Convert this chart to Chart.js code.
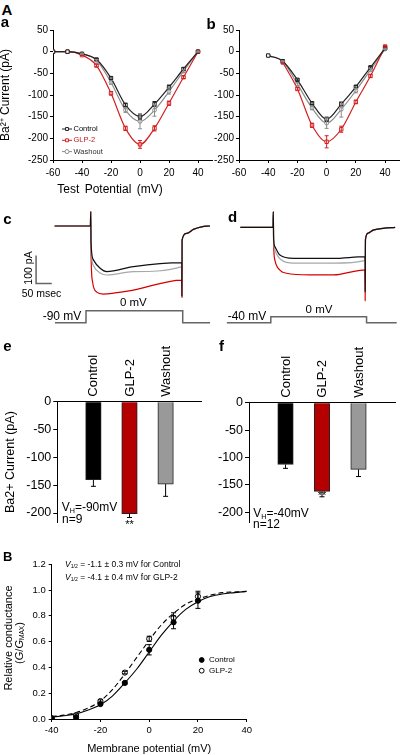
<!DOCTYPE html>
<html>
<head>
<meta charset="utf-8">
<script src="https://cdn.jsdelivr.net/npm/chart.js@4.4.0/dist/chart.umd.min.js"></script>
<style>
  body { margin: 0; background: #fff; }
  #fig { position: relative; width: 400px; height: 755px; overflow: hidden;
         font-family: 'Liberation Sans', Arial, sans-serif; color: #000; }
  canvas { position: absolute; }
  .t { position: absolute; white-space: nowrap; line-height: 1; }
  .c { transform: translate(-50%, -50%); }
  .l { transform: translateY(-50%); }
  .r { transform: translate(-50%, -50%) rotate(-90deg); }
  .b { font-weight: bold; }
  sub { font-size: 60%; vertical-align: -0.25em; line-height: 0; }
</style>
</head>
<body>
<div id="fig">
  <canvas id="ivA" width="215" height="177" style="left:0;top:18px"></canvas>
  <canvas id="ivB" width="200" height="177" style="left:200px;top:18px"></canvas>
  <canvas id="trC" width="215" height="135" style="left:0;top:200px"></canvas>
  <canvas id="trD" width="185" height="135" style="left:215px;top:200px"></canvas>
  <canvas id="barE" width="215" height="192" style="left:0;top:340px"></canvas>
  <canvas id="barF" width="200" height="192" style="left:200px;top:340px"></canvas>
  <canvas id="gv" width="262" height="207" style="left:0;top:548px"></canvas>

  <div class="t c b" style="left:7px;top:9px;font-size:15px">A</div>
  <div class="t c b" style="left:5px;top:21px;font-size:15px">a</div>
  <div class="t c b" style="left:211px;top:23px;font-size:15px">b</div>
  <div class="t c" style="left:110px;top:188.5px;font-size:12px;word-spacing:2px">Test Potential (mV)</div>

  <div class="t c b" style="left:7.5px;top:218px;font-size:15px">c</div>
  <div class="t c b" style="left:232.5px;top:216px;font-size:15px">d</div>
  <div class="t r" style="left:28px;top:267.5px;font-size:10.5px">100 pA</div>
  <div class="t c" style="left:41.5px;top:293.3px;font-size:10.5px">50 msec</div>
  <div class="t c" style="left:133.3px;top:302.5px;font-size:11.5px">0 mV</div>
  <div class="t c" style="left:62px;top:316.3px;font-size:12px">-90 mV</div>
  <div class="t c" style="left:319px;top:309.5px;font-size:11.5px">0 mV</div>
  <div class="t c" style="left:247px;top:316.3px;font-size:12px">-40 mV</div>

  <div class="t c b" style="left:7.5px;top:344.5px;font-size:15px">e</div>
  <div class="t c b" style="left:221.5px;top:345px;font-size:15px">f</div>
  <div class="t l" style="left:61.7px;top:506.7px;font-size:12px">V<sub>H</sub>=-90mV</div>
  <div class="t l" style="left:62px;top:519px;font-size:12px">n=9</div>
  <div class="t l" style="left:253.3px;top:512.7px;font-size:12px">V<sub>H</sub>=-40mV</div>
  <div class="t l" style="left:253px;top:524px;font-size:12px">n=12</div>

  <div class="t c b" style="left:7.7px;top:556px;font-size:13px">B</div>
  <div class="t l" style="left:65px;top:564.3px;font-size:8.5px"><i>V</i><sub>1/2</sub> = -1.1 ± 0.3 mV for Control</div>
  <div class="t l" style="left:65px;top:576.7px;font-size:8.5px"><i>V</i><sub>1/2</sub> = -4.1 ± 0.4 mV for GLP-2</div>
  <div class="t r" style="left:7.5px;top:638px;font-size:11px">Relative conductance</div>
  <div class="t r" style="left:18.5px;top:643px;font-size:11px">(<i>G</i>/<i>G</i><sub>MAX</sub>)</div>
</div>

<script>
// ---- data ----
// A a: I-V at holding -90 mV (pA)
const vA = [-60, -50, -40, -30, -20, -10, 0, 10, 20, 30, 40];
const ctrlA = [0, 0, -5, -18, -61, -123, -150, -121, -82, -40, 0];
const glpA = [0, 0, -8, -32, -96, -177, -214, -177, -119, -59, 0];
const washA = [0, 0, -5, -20, -71, -135, -161, -135, -92, -45, 0];
const ctrlAErr = [0, 0, 1, 2, 3, 4, 6, 6, 5, 3, 1];
const glpAErr = [0, 0, 1, 3, 4, 5, 9, 6, 5, 3, 1];
const washAErr = [0, 0, 1, 2, 4, 5, 17, 14, 6, 3, 1];

// A b: I-V at holding -40 mV
const vB = [-40, -30, -20, -10, 0, 10, 20, 30, 40];
const ctrlB = [-9, -22, -65, -119, -156, -121, -81, -36, 8];
const glpB = [null, -25, -86, -170, -208, -179, -116, -56, 12];
const washB = [-9, -22, -75, -130, -165, -133, -90, -42, 6];
const ctrlBErr = [0, 1, 2, 3, 5, 4, 3, 2, 1];
const glpBErr = [0, 2, 3, 5, 14, 7, 4, 3, 2];
const washBErr = [0, 1, 3, 4, 12, 18, 5, 3, 1];

// A c: current traces, step -90 -> 0 mV (ms, pA)
const tCCtrl = [-115, -1, 0, 1, 8, 30, 51, 136, 290, 290.5, 291, 306, 327, 353, 380];
const iCCtrl = [0, 0, 51, -60, -120, -151, -163, -145, -131, -250, -50, -26, -12, -3, 0];
const tCWash = [-115, -1, 0, 1, 8, 30, 51, 136, 290, 291, 306, 327, 353, 380];
const iCWash = [0, 0, 51, -70, -140, -168, -175, -163, -145, -50, -26, -12, -3, 0];
const tCGlp = [-115, -1, 0, 1, 6, 19, 40, 72, 136, 290, 290.5, 291, 306, 327, 353, 380];
const iCGlp = [0, 0, 51, -100, -200, -236, -243, -240, -229, -193, -255, -50, -26, -12, -3, 0];
const tProtC = [-114, -15, -15, 293, 293, 380];
const vProtC = [-90, -90, 0, 0, -90, -90];
const tScale = [-174, -174, -124];   // 50 ms
const iScale = [-105, -205, -205];   // 100 pA

// A d: current traces, step -40 -> 0 mV
const tDCtrl = [-105, -1, 0, 1, 5, 21, 64, 191, 292, 292.5, 293.5, 302, 318, 350, 388];
const iDCtrl = [0, 0, 56, -40, -69, -99, -111, -111, -105, -230, -43, -21, -10, -3.6, 0];
const tDWash = [-105, -1, 0, 1, 5, 26, 64, 191, 292, 293.5, 302, 318, 350, 388];
const iDWash = [0, 0, 56, -40, -81, -117, -128, -128, -119, -43, -21, -10, -3.6, 0];
const tDGlp = [-105, -1, 0, 1, 5, 21, 42, 116, 191, 292, 292.5, 293.5, 302, 318, 350, 388];
const iDGlp = [0, 0, 56, -60, -117, -153, -164, -170, -170, -152, -262, -43, -21, -10, -3.6, 0];
const tProtD = [-148, -8, -8, 297, 297, 393];
const vProtD = [-40, -40, 0, 0, -40, -40];

// A e, f: mean current
const barCats = ['', 'Control', 'GLP-2', 'Washout', ''];
const meanE = [-140, -201, -148];
const errE = [12, 7, 22];
const meanF = [-113, -162, -122];
const errF = [7, 10, 13];

// B: relative conductance
const vG = [-40, -30, -20, -10, 0, 10, 20];
const gCtrl = [0.005, 0.013, 0.116, 0.28, 0.537, 0.75, 0.918];
const gGlp = [0.005, 0.03, 0.139, 0.36, 0.622, 0.784, 0.951];
const gCtrlErr = [0, 0.01, 0.01, 0.01, 0.04, 0.05, 0.06];
const gGlpErr = [0, 0.01, 0.01, 0.01, 0.02, 0.04, 0.04];
const vFit = [-40, -35, -30, -25, -20, -15, -10, -5, 0, 5, 10, 15, 20, 25, 30, 35, 40];
const fitCtrl = [0.015, 0.025, 0.04, 0.07, 0.11, 0.18, 0.28, 0.39, 0.52, 0.65, 0.76, 0.85, 0.91, 0.95, 0.97, 0.98, 0.99];
const fitGlp = [0.02, 0.03, 0.05, 0.085, 0.14, 0.23, 0.35, 0.48, 0.61, 0.73, 0.82, 0.89, 0.93, 0.96, 0.98, 0.985, 0.99];

// ---- setup ----
const FONT = "'Liberation Sans', Arial, sans-serif";
Chart.defaults.font.family = FONT;
Chart.defaults.color = '#000';
Chart.defaults.animation = false;
Chart.defaults.responsive = false;
Chart.defaults.plugins.legend.display = false;
Chart.defaults.plugins.tooltip.enabled = false;
Chart.defaults.layout.autoPadding = false;

const pts = (xs, ys) => xs.map((x, i) => ({ x: x, y: ys[i] }));

function drawMark(ctx, style, x, y, r, stroke, fill) {
  ctx.beginPath();
  if (style === 'rect') ctx.rect(x - r * 0.72, y - r * 0.72, r * 1.44, r * 1.44);
  else ctx.arc(x, y, r, 0, Math.PI * 2);
  ctx.fillStyle = fill;
  ctx.fill();
  ctx.strokeStyle = stroke;
  ctx.lineWidth = 1;
  ctx.stroke();
}

const errorBars = {
  id: 'errorBars',
  afterDatasetsDraw(chart) {
    const ctx = chart.ctx;
    chart.data.datasets.forEach((ds, i) => {
      if (!ds.err) return;
      const meta = chart.getDatasetMeta(i);
      const ys = chart.scales[meta.yAxisID];
      ctx.save();
      ctx.strokeStyle = ds.errColor || ds.borderColor;
      ctx.lineWidth = 1;
      meta.data.forEach((el, j) => {
        const e = ds.err[j];
        const raw = ds.data[j];
        const v = raw !== null && typeof raw === 'object' ? raw.y : raw;
        if (!e || v == null) return;
        const lo = ys.getPixelForValue(v - e);
        const hi = ds.errDown ? el.y : ys.getPixelForValue(v + e);
        const c = ds.errCap || 2;
        ctx.beginPath();
        ctx.moveTo(el.x, hi); ctx.lineTo(el.x, lo);
        ctx.moveTo(el.x - c, lo); ctx.lineTo(el.x + c, lo);
        if (!ds.errDown) { ctx.moveTo(el.x - c, hi); ctx.lineTo(el.x + c, hi); }
        ctx.stroke();
        if (ds.stars && ds.stars[j]) {
          ctx.fillStyle = '#000';
          ctx.font = '11px ' + FONT;
          ctx.textAlign = 'center';
          ctx.textBaseline = 'middle';
          ctx.fillText(ds.stars[j], el.x, lo + ds.starDy);
        }
      });
      ctx.restore();
    });
  }
};

// rotated category names sitting on the top axis, one per bar
const catLabels = {
  id: 'catLabels',
  afterDraw(chart) {
    const xs = chart.scales.x;
    const ctx = chart.ctx;
    ctx.save();
    ctx.font = '13px ' + FONT;
    ctx.fillStyle = '#000';
    ctx.textAlign = 'left';
    ctx.textBaseline = 'middle';
    chart.data.labels.forEach((lab, i) => {
      if (!lab) return;
      ctx.save();
      ctx.translate(xs.getPixelForValue(i) + 0.5, chart.chartArea.top - 5);
      ctx.rotate(-Math.PI / 2);
      ctx.fillText(lab, 0, 0);
      ctx.restore();
    });
    ctx.restore();
  }
};

const miniLegend = {
  id: 'miniLegend',
  afterDraw(chart, args, o) {
    if (!o || o.x == null) return;
    const ctx = chart.ctx;
    ctx.save();
    ctx.font = o.size + 'px ' + FONT;
    ctx.textBaseline = 'middle';
    ctx.textAlign = 'left';
    let k = 0;
    chart.data.datasets.forEach(ds => {
      if (!ds.label) return;
      const y = o.y + k * o.gap;
      k++;
      if (o.line) {
        ctx.strokeStyle = ds.borderColor;
        ctx.lineWidth = 1;
        ctx.beginPath();
        ctx.moveTo(o.x - 5, y); ctx.lineTo(o.x + 5, y);
        ctx.stroke();
      }
      drawMark(ctx, ds.pointStyle, o.x, y, o.r, ds.pointBorderColor, ds.pointBackgroundColor);
      ctx.fillStyle = ds.legendColor || '#000';
      ctx.fillText(ds.label, o.textX, y);
    });
    ctx.restore();
  }
};

function axisStyle(extra) {
  return Object.assign({
    grid: { drawOnChartArea: false, tickLength: 3, color: '#000' },
    border: { color: '#000', width: 1 }
  }, extra);
}

// ---- I-V panels ----
function ivSet(label, xs, ys, err, color, style, legendColor) {
  return {
    label: label, data: pts(xs, ys), err: err,
    borderColor: color, pointBorderColor: color, pointBackgroundColor: '#fff',
    pointStyle: style, pointRadius: style === 'rect' ? 2.4 : 1.9, pointBorderWidth: 1,
    borderWidth: 1.2, cubicInterpolationMode: 'monotone', legendColor: legendColor
  };
}

function ivChart(id, xs, sets, yTitle, yw, padRight, legend) {
  new Chart(document.getElementById(id), {
    type: 'line',
    data: { datasets: sets },
    options: {
      layout: { padding: { top: 12, right: padRight, left: 0, bottom: 0 } },
      plugins: { miniLegend: legend },
      scales: {
        x: axisStyle({
          type: 'linear', min: -60, max: 50,
          afterFit: s => { s.height = 35; },
          ticks: { stepSize: 20, includeBounds: false, font: { size: 10 }, padding: 4 }
        }),
        y: axisStyle({
          min: -250, max: 50,
          afterFit: s => { s.width = yw; },
          ticks: { stepSize: 50, font: { size: 10 }, padding: 2 },
          title: { display: !!yTitle, text: yTitle, font: { size: 12, lineHeight: 1 }, padding: 0 }
        })
      }
    },
    plugins: [errorBars, miniLegend]
  });
}

ivChart('ivA', vA, [
  ivSet('Control', vA, ctrlA, ctrlAErr, '#222', 'rect', '#000'),
  ivSet('GLP-2', vA, glpA, glpAErr, '#d42020', 'rect', '#c02020'),
  ivSet('Washout', vA, washA, washAErr, '#8c8c8c', 'circle', '#333')
], 'Ba²⁺ Current (pA)', 53, 2.5, { x: 67, y: 111, gap: 11.3, r: 2, textX: 73.5, size: 7.5, line: true });

ivChart('ivB', vB, [
  ivSet(null, vB, ctrlB, ctrlBErr, '#222', 'rect'),
  ivSet(null, vB, glpB, glpBErr, '#d42020', 'rect'),
  ivSet(null, vB, washB, washBErr, '#8c8c8c', 'circle')
], '', 39, 0.3, {});

// ---- current traces ----
function trace(xs, ys, color, axis, width) {
  return {
    data: pts(xs, ys), borderColor: color, borderWidth: width || 1.2,
    pointRadius: 0, yAxisID: axis || 'y', cubicInterpolationMode: 'monotone'
  };
}

function traceChart(id, lim, sets) {
  new Chart(document.getElementById(id), {
    type: 'line',
    data: { datasets: sets },
    options: {
      layout: { padding: 0 },
      scales: {
        x: { type: 'linear', display: false, min: lim[0], max: lim[1] },
        y: { display: false, min: lim[2], max: lim[3] },
        v: { display: false, min: lim[4], max: lim[5] }
      }
    }
  });
}

traceChart('trC', [-288.9, 395.8, -389.3, 92.9, -182.3, 830.2], [
  trace(tCCtrl, iCCtrl, '#111'),
  trace(tCWash, iCWash, '#a8a8a8'),
  trace(tCGlp, iCGlp, '#d40000'),
  Object.assign(trace(tProtC, vProtC, '#666', 'v', 1.5), { cubicInterpolationMode: 'default', tension: 0 }),
  Object.assign(trace(tScale, iScale, '#666', 'y', 1.5), { cubicInterpolationMode: 'default', tension: 0 })
]);

traceChart('trD', [-185.7, 403.5, -384.6, 97.5, -122, 778], [
  trace(tDCtrl, iDCtrl, '#111'),
  trace(tDWash, iDWash, '#a8a8a8'),
  trace(tDGlp, iDGlp, '#d40000'),
  Object.assign(trace(tProtD, vProtD, '#666', 'v', 1.5), { cubicInterpolationMode: 'default', tension: 0 })
]);

// ---- bar panels ----
function barChart(id, means, errs, stars, starDy, yTitle, yw, xh, padR, padB, ymin) {
  new Chart(document.getElementById(id), {
    type: 'bar',
    data: {
      labels: barCats,
      datasets: [{
        data: [null].concat(means, [null]),
        err: [0].concat(errs, [0]),
        stars: stars, starDy: starDy,
        errDown: true, errColor: '#000', errCap: 2.5,
        backgroundColor: ['#000', '#000', '#b40000', '#999', '#000'],
        borderColor: '#222', borderWidth: 1, barThickness: 15.5
      }]
    },
    options: {
      layout: { padding: { top: 0, right: padR, bottom: padB, left: 0 } },
      scales: {
        x: {
          type: 'category', position: 'top', offset: false,
          grid: { display: false, offset: false },
          border: { color: '#000', width: 1 },
          afterFit: s => { s.height = xh; },
          ticks: { display: false }
        },
        y: axisStyle({
          min: ymin, max: 0,
          afterFit: s => { s.width = yw; },
          grid: { drawOnChartArea: false, tickLength: 4, color: '#000' },
          ticks: { stepSize: 50, includeBounds: false, font: { size: 12.5 }, padding: 2 },
          title: { display: !!yTitle, text: yTitle, font: { size: 12.5, lineHeight: 1 }, padding: { top: 4, bottom: 0 } }
        })
      }
    },
    plugins: [errorBars, catLabels]
  });
}

barChart('barE', meanE, errE, ['', '', '**', '', ''], 7, 'Ba2+ Current (pA)', 57.3, 61.7, 13.3, 5.5, -217);
barChart('barF', meanF, errF, ['', '', '**', '', ''], -0.5, '', 49, 62.7, 5, 3.8, -219);

// ---- B: conductance ----
new Chart(document.getElementById('gv'), {
  type: 'line',
  data: {
    datasets: [
      { label: 'Control', data: pts(vG, gCtrl), err: gCtrlErr, errColor: '#000', errCap: 2.5,
        showLine: false, pointStyle: 'circle', pointRadius: 2.6, pointBorderWidth: 1,
        pointBackgroundColor: '#000', pointBorderColor: '#000', borderColor: '#000', order: 0 },
      { label: 'GLP-2', data: pts(vG, gGlp), err: gGlpErr, errColor: '#000', errCap: 2.5,
        showLine: false, pointStyle: 'circle', pointRadius: 2.6, pointBorderWidth: 1,
        pointBackgroundColor: '#fff', pointBorderColor: '#000', borderColor: '#000', order: 0 },
      { data: pts(vFit, fitCtrl), borderColor: '#000', borderWidth: 1.1, pointRadius: 0,
        cubicInterpolationMode: 'monotone', order: 1 },
      { data: pts(vFit, fitGlp), borderColor: '#000', borderWidth: 1.1, pointRadius: 0,
        borderDash: [5, 3], cubicInterpolationMode: 'monotone', order: 1 }
    ]
  },
  options: {
    layout: { padding: { top: 16.3, right: 15.3, left: 0, bottom: 0 } },
    plugins: { miniLegend: { x: 201.7, y: 112, gap: 10.7, r: 2.4, textX: 209, size: 8, line: false } },
    scales: {
      x: axisStyle({
        type: 'linear', min: -40, max: 40,
        afterFit: s => { s.height = 36; },
        ticks: { stepSize: 20, font: { size: 9.5 }, padding: 3 },
        title: { display: true, text: 'Membrane potential (mV)', font: { size: 11, lineHeight: 1 }, padding: { top: 0, bottom: 1 } }
      }),
      y: axisStyle({
        min: 0, max: 1.2,
        afterFit: s => { s.width = 51.7; },
        ticks: { stepSize: 0.2, font: { size: 9.5 }, padding: 3, callback: v => v.toFixed(1) }
      })
    }
  },
  plugins: [errorBars, miniLegend]
});
</script>
</body>
</html>
